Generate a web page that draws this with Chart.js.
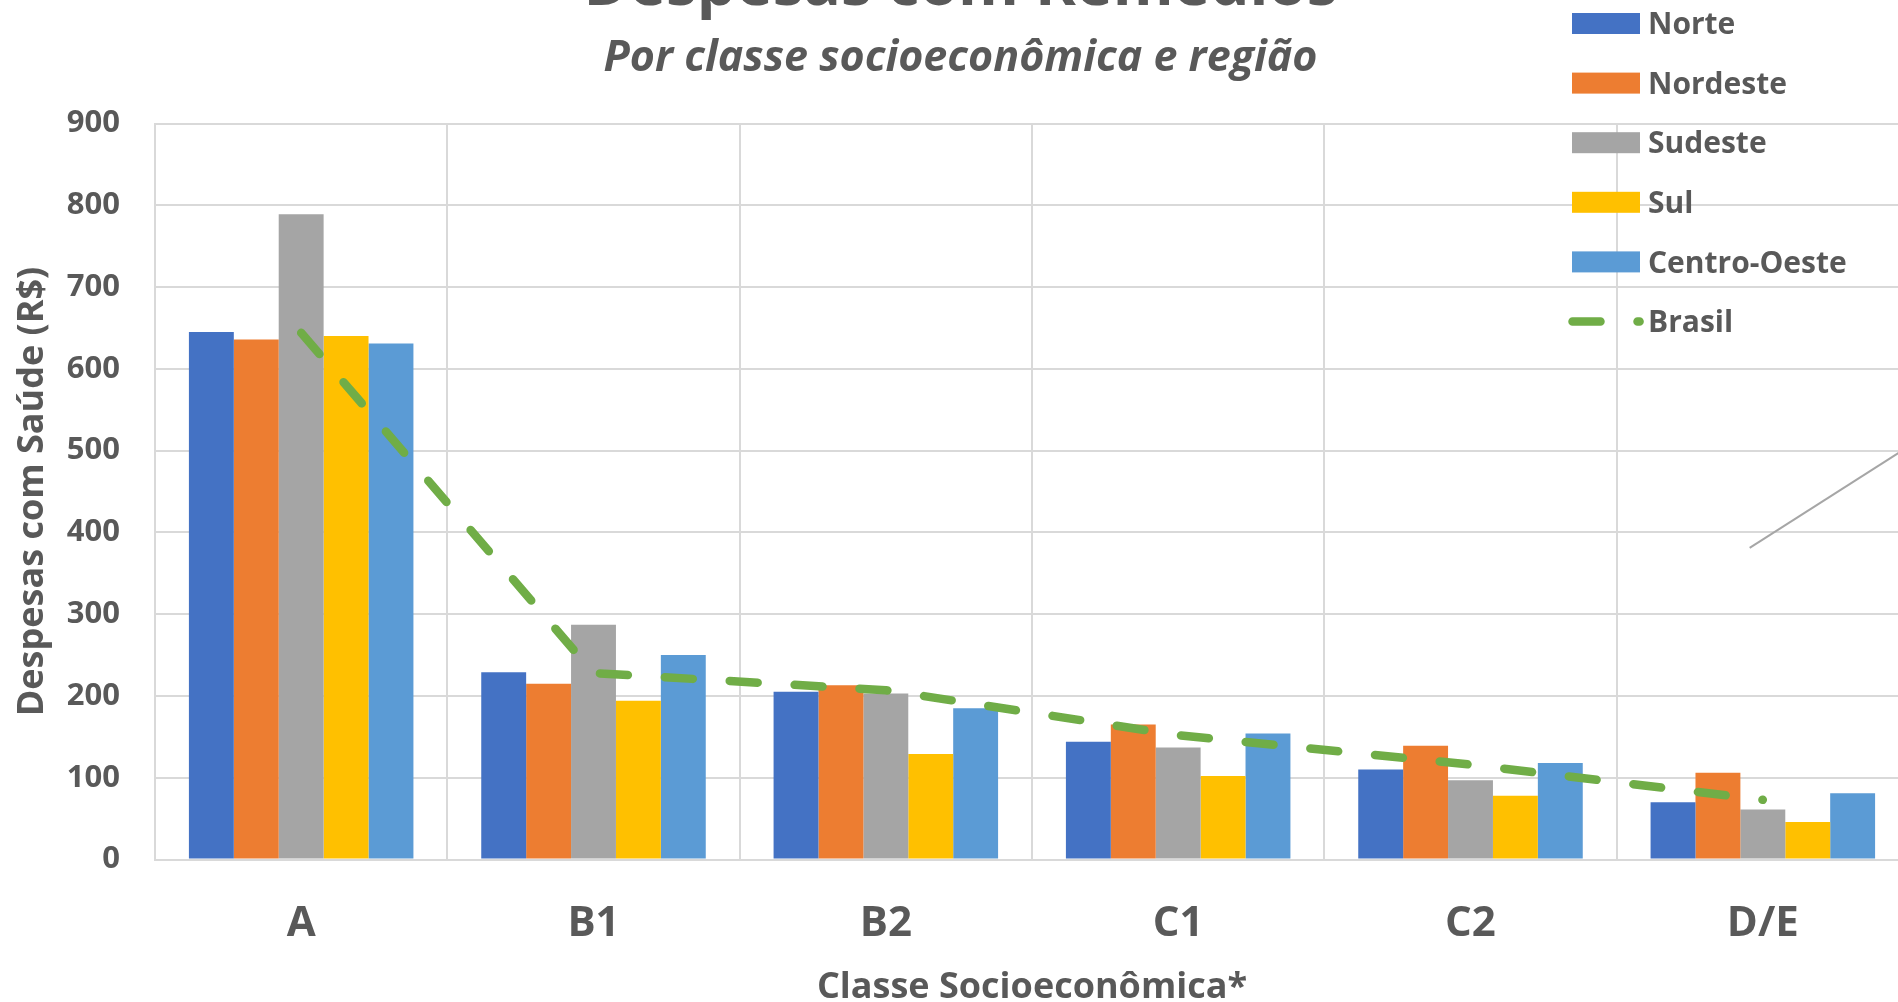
<!DOCTYPE html>
<html lang="pt-BR">
<head>
<meta charset="utf-8">
<title>Despesas com Remédios</title>
<script src="https://cdn.jsdelivr.net/npm/chart.js@4.4.1/dist/chart.umd.min.js"></script>
<style>
  html, body { margin: 0; padding: 0; background: #fff; overflow: hidden; }
  /* o gráfico original aparece cortado em cima e à direita */
  #wrap { position: absolute; left: 0; top: -60px; width: 1940px; height: 1070px; }
</style>
</head>
<body>
<div id="wrap"><canvas id="chart" width="1940" height="1070"></canvas></div>
<script>
// Dados (R$)
const categories = ['A', 'B1', 'B2', 'C1', 'C2', 'D/E'];
const norte = [645, 229, 205, 144, 110, 70];
const nordeste = [636, 215, 213, 165, 139, 106];
const sudeste = [789, 287, 203, 137, 97, 61];
const sul = [640, 194, 129, 102, 78, 46];
const centroOeste = [631, 250, 185, 154, 118, 81];
const brasil = [644, 228, 207, 152, 116, 73];
const yMax = 900;
const yStep = 100;

const TEXT = '#595959';
const GRID = '#D9D9D9';
const TOP_CROP = 60;

Chart.defaults.font.family = "'Open Sans', 'Noto Sans', sans-serif";

// linha cinza solta no canto direito (resto de uma seta do original)
const pointerLine = { from: [4.955, 381], to: [5.6, 528] };

// legenda à direita, desenhada por cima da área do gráfico
const sideLegend = {
  id: 'sideLegend',
  afterDraw(chart) {
    const ctx = chart.ctx;
    const size = 30;
    ctx.save();
    ctx.font = 'bold ' + size + 'px "Open Sans"';
    ctx.textBaseline = 'alphabetic';
    chart.data.datasets.forEach((ds, i) => {
      const y = TOP_CROP + 23.5 + i * 59.6;
      if (ds.type === 'line') {
        ctx.strokeStyle = ds.borderColor;
        ctx.lineWidth = ds.borderWidth;
        ctx.lineCap = 'round';
        ctx.setLineDash(ds.borderDash);
        ctx.beginPath();
        ctx.moveTo(1572.5, y);
        ctx.lineTo(1639.6, y);
        ctx.stroke();
        ctx.setLineDash([]);
      } else {
        ctx.fillStyle = ds.backgroundColor;
        ctx.fillRect(1572, y - 10.5, 68, 21);
      }
      ctx.fillStyle = TEXT;
      ctx.fillText(ds.label, 1648, y + size * 0.357);
    });
    ctx.restore();
  }
};

const pointerPlugin = {
  id: 'pointer',
  afterDatasetsDraw(chart) {
    const { ctx, scales: { x, y } } = chart;
    ctx.save();
    ctx.strokeStyle = '#A6A6A6';
    ctx.lineWidth = 2;
    ctx.beginPath();
    ctx.moveTo(x.getPixelForValue(pointerLine.from[0]), y.getPixelForValue(pointerLine.from[1]));
    ctx.lineTo(x.getPixelForValue(pointerLine.to[0]), y.getPixelForValue(pointerLine.to[1]));
    ctx.stroke();
    ctx.restore();
  }
};

function barSet(label, data, color) {
  return {
    type: 'bar',
    label: label,
    data: data,
    backgroundColor: color,
    borderWidth: 0,
    categoryPercentage: 0.768,
    barPercentage: 1,
    order: 1
  };
}

new Chart(document.getElementById('chart'), {
  data: {
    labels: categories,
    datasets: [
      barSet('Norte', norte, '#4472C4'),
      barSet('Nordeste', nordeste, '#ED7D31'),
      barSet('Sudeste', sudeste, '#A5A5A5'),
      barSet('Sul', sul, '#FFC000'),
      barSet('Centro-Oeste', centroOeste, '#5B9BD5'),
      {
        type: 'line',
        label: 'Brasil',
        data: brasil,
        borderColor: '#70AD47',
        borderWidth: 8.5,
        borderDash: [28, 37],
        borderCapStyle: 'round',
        borderJoinStyle: 'round',
        pointRadius: 0,
        tension: 0,
        fill: false,
        order: 0
      }
    ]
  },
  options: {
    responsive: false,
    animation: false,
    devicePixelRatio: 1,
    layout: { padding: { top: 0, right: 31, bottom: 0, left: 12 } },
    plugins: {
      legend: { display: false },
      tooltip: { enabled: false },
      title: {
        display: true,
        text: 'Despesas com Remédios',
        color: TEXT,
        font: { size: 62, weight: 'bold' },
        padding: { top: 10, bottom: 0 }
      },
      subtitle: {
        display: true,
        text: 'Por classe socioeconômica e região',
        color: TEXT,
        font: { size: 43, weight: 'bold', style: 'italic' },
        padding: { top: 8.3, bottom: 39.2 }
      }
    },
    scales: {
      x: {
        ticks: { color: TEXT, font: { size: 42, weight: 'bold' }, padding: 39.5, maxRotation: 0, autoSkip: false },
        grid: { color: GRID, lineWidth: 2, drawTicks: false, offset: true },
        border: { color: GRID, width: 2 },
        title: {
          display: true,
          text: 'Classe Socioeconômica*',
          color: TEXT,
          font: { size: 36, weight: 'bold' },
          padding: { top: 0, bottom: 1 }
        },
        afterFit(scale) { scale.height = 150.5; }
      },
      y: {
        min: 0,
        max: yMax,
        ticks: { stepSize: yStep, color: TEXT, font: { size: 31, weight: 'bold' }, padding: 35 },
        grid: { color: GRID, lineWidth: 2, drawTicks: false },
        border: { display: true, color: GRID, width: 2 },
        title: {
          display: true,
          text: 'Despesas com Saúde (R$)',
          color: TEXT,
          font: { size: 36, weight: 'bold', lineHeight: 1 },
          padding: { top: 2.8, bottom: 0 }
        },
        afterFit(scale) { scale.width = 143; }
      }
    }
  },
  plugins: [pointerPlugin, sideLegend]
});
</script>
</body>
</html>
